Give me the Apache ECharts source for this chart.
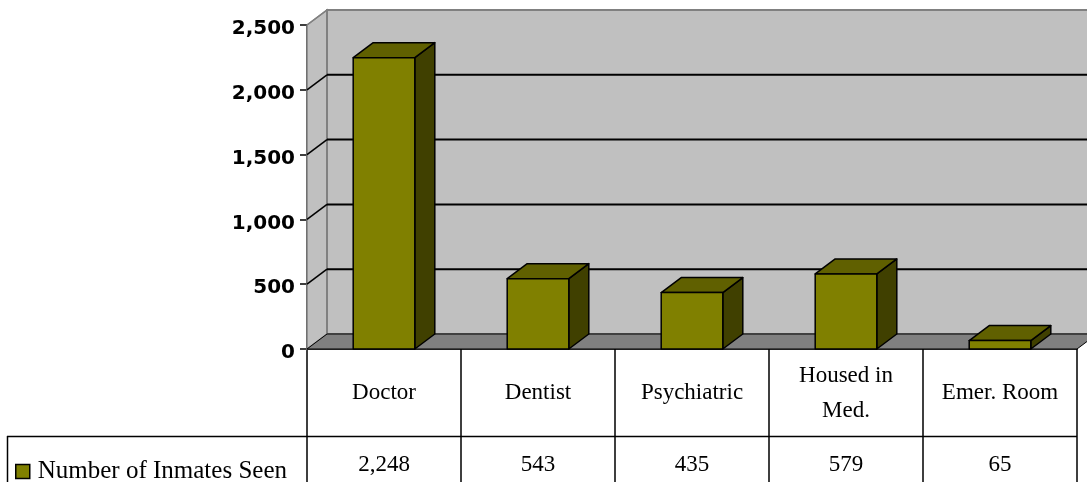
<!DOCTYPE html>
<html>
<head>
<meta charset="utf-8">
<script src="https://cdn.jsdelivr.net/npm/echarts@6/dist/echarts.min.js"></script>
<style>
  html, body { margin: 0; padding: 0; background: #fff; }
  #chart { width: 1087px; height: 482px; }
</style>
</head>
<body>
<div id="chart"></div>
<script>
// Data
const categories = ['Doctor', 'Dentist', 'Psychiatric', 'Housed in\nMed.', 'Emer. Room']
const inmatesSeen = [2248, 543, 435, 579, 65]
const seriesName = 'Number of Inmates Seen'
const yTicks = [0, 500, 1000, 1500, 2000, 2500]

// 3D depth offset of the back wall / bar tops
const DX = 20
const DY = 15

const chart = echarts.init(document.getElementById('chart'), null, { renderer: 'canvas' })

const fmt = (v) => v.toLocaleString('en-US')
const serif = '"Liberation Serif", "DejaVu Serif", serif'

// walls and floor, from the grid rect
function renderWalls(params, api) {
  const cs = params.coordSys
  const x0 = cs.x, x1 = cs.x + cs.width
  const yt = cs.y, yb = cs.y + cs.height
  return {
    type: 'group',
    children: [
      { type: 'polygon', shape: { points: [[x0, yt], [x0 + DX, yt - DY], [x0 + DX, yb - DY], [x0, yb]] },
        style: { fill: '#c0c0c0', stroke: '#808080', lineWidth: 1.5 } },
      { type: 'rect', shape: { x: x0 + DX, y: yt - DY, width: cs.width, height: cs.height },
        style: { fill: '#c0c0c0', stroke: '#808080', lineWidth: 2 } },
      { type: 'polygon', shape: { points: [[x0, yb], [x0 + DX, yb - DY], [x1 + DX, yb - DY], [x1, yb]] },
        style: { fill: '#808080', stroke: '#000', lineWidth: 1 } },
    ],
  }
}

// gridlines on back wall + left side wall
function renderGrid(params, api) {
  const cs = params.coordSys
  const v = api.value(1)
  if (v === 0) return null
  const y = api.coord([0, v])[1]
  const x0 = cs.x, x1 = cs.x + cs.width
  const col = v === yTicks[yTicks.length - 1] ? '#808080' : '#000'
  return {
    type: 'group',
    children: [
      { type: 'line', shape: { x1: x0, y1: y, x2: x0 + DX, y2: y - DY }, style: { stroke: col, lineWidth: 1.5 } },
      { type: 'line', shape: { x1: x0 + DX, y1: y - DY, x2: x1 + DX, y2: y - DY }, style: { stroke: col, lineWidth: 2 } },
    ],
  }
}

function renderBar(params, api) {
  const idx = api.value(0)
  const top = api.coord([idx, api.value(1)])
  const base = api.coord([idx, 0])
  const bw = api.size([1, 0])[0] * 0.4
  const xl = top[0] - bw / 2, xr = top[0] + bw / 2
  const yt = top[1], yb = base[1]
  const edge = { stroke: '#000', lineWidth: 1.5, lineJoin: 'round' }
  return {
    type: 'group',
    children: [
      { type: 'polygon', shape: { points: [[xr, yt], [xr + DX, yt - DY], [xr + DX, yb - DY], [xr, yb]] },
        style: { fill: '#404000', ...edge } },
      { type: 'polygon', shape: { points: [[xl, yt], [xl + DX, yt - DY], [xr + DX, yt - DY], [xr, yt]] },
        style: { fill: '#606000', ...edge } },
      { type: 'rect', shape: { x: xl, y: yt, width: bw, height: yb - yt },
        style: { fill: '#808000', ...edge } },
    ],
  }
}

chart.setOption({
  animation: false,
  backgroundColor: '#fff',
  grid: { left: 307, right: 10, top: 25, bottom: 133, containLabel: false },
  legend: {
    data: [seriesName],
    left: 15, top: 459, padding: 0,
    icon: 'rect', itemWidth: 14, itemHeight: 14, itemGap: 8,
    itemStyle: { color: '#808000', borderColor: '#000', borderWidth: 1.5 },
    textStyle: { fontFamily: serif, fontSize: 25, color: '#000', padding: [0, 0, 0, 3] },
  },
  xAxis: [
    {
      type: 'category', data: categories, position: 'bottom',
      axisLine: { show: true, lineStyle: { color: '#000', width: 1.5 } },
      axisTick: { show: true, interval: 0, length: 133, inside: false, lineStyle: { color: '#000', width: 1.5 } },
      axisLabel: {
        interval: 0, margin: 44, verticalAlign: 'middle', lineHeight: 35,
        fontFamily: serif, fontSize: 23, color: '#000',
      },
      splitLine: { show: false },
    },
    {
      type: 'category', data: categories, position: 'bottom',
      axisLine: { show: false }, axisTick: { show: false },
      axisLabel: {
        interval: 0, margin: 116, verticalAlign: 'middle',
        fontFamily: serif, fontSize: 23, color: '#000',
        formatter: (v, i) => fmt(inmatesSeen[i]),
      },
      splitLine: { show: false },
    },
  ],
  yAxis: {
    type: 'value', min: 0, max: 2500, interval: 500,
    axisLine: { show: true, lineStyle: { color: '#000', width: 1.5 } },
    axisTick: { show: true, length: 7, lineStyle: { color: '#000', width: 1.5 } },
    axisLabel: {
      margin: 12, color: '#000',
      formatter: (v) => '{n|' + fmt(v) + '}',
      rich: {
        n: {
          fontFamily: '"DejaVu Sans", Verdana, sans-serif', fontWeight: 'bold',
          fontSize: 20, color: '#000', padding: [8, 0, 0, 0],
        },
      },
    },
    splitLine: { show: false },
  },
  graphic: [
    { type: 'line', shape: { x1: 7, y1: 436.5, x2: 1077, y2: 436.5 }, style: { stroke: '#000', lineWidth: 1.5 }, z: 100 },
    { type: 'line', shape: { x1: 7.5, y1: 436, x2: 7.5, y2: 482 }, style: { stroke: '#000', lineWidth: 1.5 }, z: 100 },
  ],
  series: [
    { type: 'custom', name: 'walls', renderItem: renderWalls, data: [[0, 0]], z: 1, silent: true, clip: false },
    { type: 'custom', name: 'grid', renderItem: renderGrid, data: yTicks.map(v => [0, v]), z: 2, silent: true, clip: false },
    {
      type: 'custom', name: seriesName, renderItem: renderBar, z: 3, clip: false,
      itemStyle: { color: '#808000', borderColor: '#000', borderWidth: 1.5 },
      data: inmatesSeen.map((v, i) => [i, v]),
    },
  ],
})
</script>
</body>
</html>
